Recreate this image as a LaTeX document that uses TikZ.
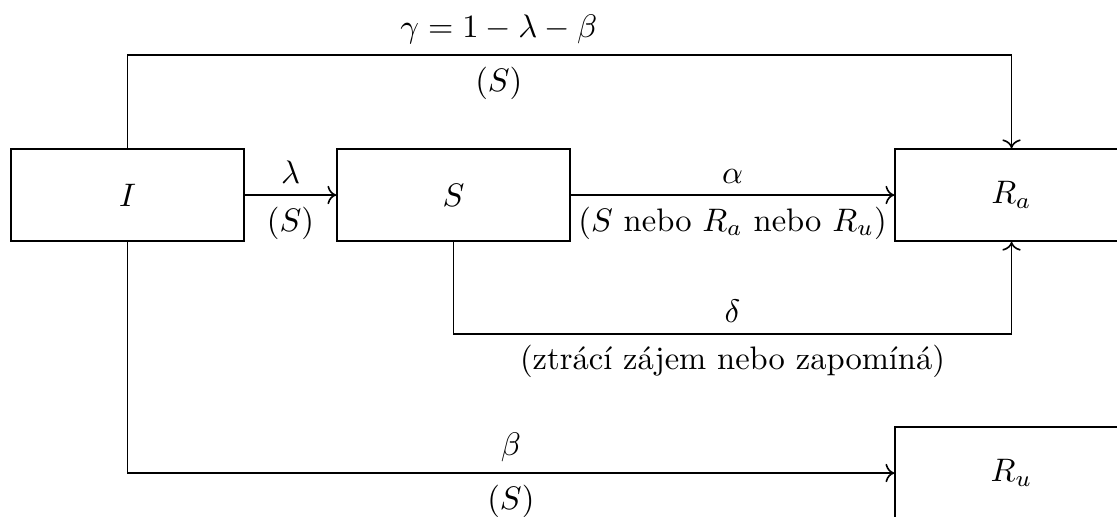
\documentclass[tikz,border=0pt]{standalone}
\usepackage{amsmath,amssymb}
\usepackage{tikz}
\usetikzlibrary{calc,arrows.meta}

\begin{document}
\begin{tikzpicture}[scale=0.54, line width=0.5pt,
    box/.style={draw, minimum width=2.516cm, minimum height=0.994cm}]
        % okraje obrazku
        \useasboundingbox (0,0) rectangle (22.34,-10.32);

        % stavy
        \node[box] (I) at (2.55,-3.9) {$I$};
        \node[box] (S) at (9.07,-3.9) {$S$};
        \node[box] (Ra) at (20.23,-3.9) {$R_a$};
        \node[box] (Ru) at (20.23,-9.46) {$R_u$};

        % prechody
        \draw[->] (I) -- node[above] {$\lambda$} node[below] {$(S)$} (S);
        \draw[->] (S) -- node[above] {$\alpha$}
            node[below] {$(S$ nebo $R_a$ nebo $R_u)$} (Ra);
        \draw[->] (I.north) -- ++(0,1.86) -| node[pos=0.21,above] {$\gamma=1-\lambda-\beta$}
            node[pos=0.21,below] {$(S)$} (Ra.north);
        \draw[->] (S.south) -- ++(0,-1.84) -| node[pos=0.25,above] {$\delta$}
            node[pos=0.25,below] {(ztrácí zájem nebo zapomíná)} (Ra.south);
        \draw[->] (I.south) |- node[pos=0.75,above] {$\beta$}
            node[pos=0.75,below] {$(S)$} (Ru.west);
    \end{tikzpicture}
\end{document}
